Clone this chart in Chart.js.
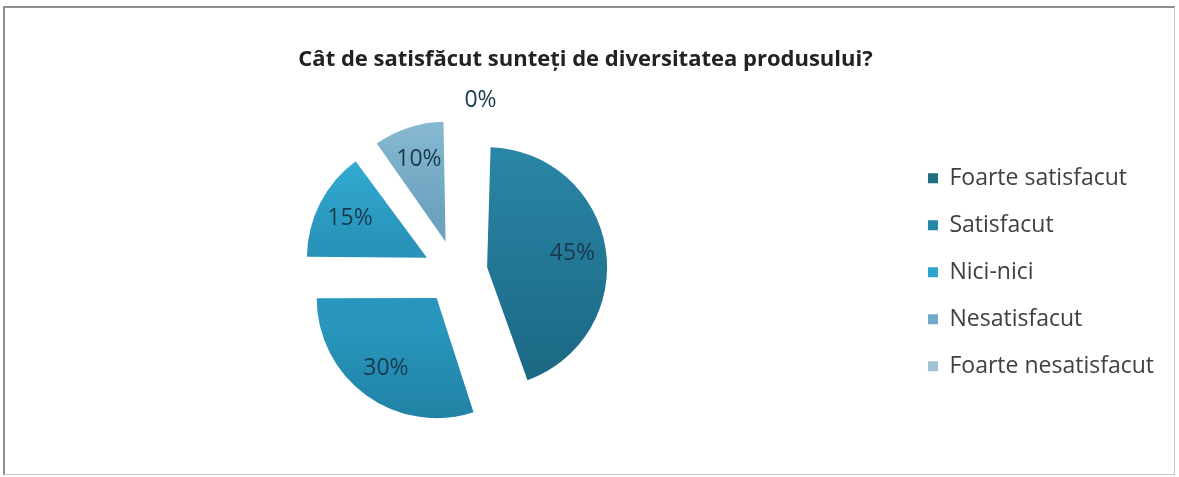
<!DOCTYPE html>
<html>
<head>
<meta charset="utf-8">
<script src="https://cdn.jsdelivr.net/npm/chart.js@4"></script>
<style>
  html, body { margin: 0; padding: 0; background: #fff; }
  #wrap { position: relative; width: 1179px; height: 477px; overflow: hidden; }
  #frame { position: absolute; left: 3px; top: 6px; width: 1169px; height: 466px;
           border: 1px solid #c8c8c8; border-top: 2px solid #8e8e8e; border-left: 2px solid #8e8e8e; }
  canvas { position: absolute; left: 0; top: 0; }
</style>
</head>
<body>
<div id="wrap">
  <div id="frame"></div>
  <canvas id="chart" width="1179" height="477"></canvas>
</div>
<script>
const chartTitle = 'Cât de satisfăcut sunteți de diversitatea produsului?';
const categories = ['Foarte satisfacut', 'Satisfacut', 'Nici-nici', 'Nesatisfacut', 'Foarte nesatisfacut'];
const shares = [45, 30, 15, 10, 0];
const legendColors = ['#1f6e82', '#2486a8', '#2ca4ce', '#6fa8c8', '#a0c2d4'];
// top / bottom shade of each slice
const topColors = ['#2a87a6', '#2896bd', '#35b0d8', '#90c1d7', '#b0d0de'];
const bottomColors = ['#1b6884', '#1f7d9e', '#2892b8', '#6ca3bf', '#90b6ca'];

const R = 120;        // pie radius
const explode = 128;  // chart.js moves a slice by offset/4
const shift = explode / 4;

function sliceAngles(i) {
  const total = shares.reduce((a, b) => a + b, 0);
  const before = shares.slice(0, i).reduce((a, b) => a + b, 0);
  const start = -Math.PI / 2 + 2 * Math.PI * before / total;
  const end = start + 2 * Math.PI * shares[i] / total;
  return [start, end];
}

function sliceFill(c) {
  const i = c.dataIndex;
  const area = c.chart.chartArea;
  if (!area) return legendColors[i];
  const cy = (area.top + area.bottom) / 2;
  const [a0, a1] = sliceAngles(i);
  const mid = (a0 + a1) / 2;
  const ay = cy + Math.sin(mid) * shift;
  let ymin = ay, ymax = ay;
  for (let k = 0; k <= 24; k++) {
    const a = a0 + (a1 - a0) * k / 24;
    const y = ay + Math.sin(a) * R;
    ymin = Math.min(ymin, y);
    ymax = Math.max(ymax, y);
  }
  const g = c.chart.ctx.createLinearGradient(0, ymin, 0, ymax + 1);
  g.addColorStop(0, topColors[i]);
  g.addColorStop(1, bottomColors[i]);
  return g;
}

// keep every slice the same radius when exploded
const evenRadius = {
  id: 'evenRadius',
  beforeDatasetsDraw(chart) {
    chart.getDatasetMeta(0).data.forEach(arc => {
      const fix = 1 - Math.sin(Math.min(Math.PI, arc.circumference || 0));
      arc.outerRadius = R - shift * fix;
    });
  }
};

const pctLabels = {
  id: 'pctLabels',
  afterDatasetsDraw(chart) {
    const ctx = chart.ctx;
    const meta = chart.getDatasetMeta(0);
    ctx.save();
    ctx.font = '23px "Open Sans"';
    ctx.fillStyle = '#173a4e';
    ctx.textAlign = 'center';
    ctx.textBaseline = 'middle';
    meta.data.forEach((arc, i) => {
      const mid = (arc.startAngle + arc.endAngle) / 2;
      let d, dx = 0;
      if (shares[i] > 0) {
        d = shift + 0.72 * R;
      } else {
        d = R + shift + 20;
        dx = 25;
      }
      ctx.fillText(shares[i] + '%', arc.x + Math.cos(mid) * d + dx, arc.y + Math.sin(mid) * d);
    });
    ctx.restore();
  }
};

new Chart(document.getElementById('chart'), {
  type: 'pie',
  data: {
    labels: categories,
    datasets: [{
      data: shares,
      backgroundColor: sliceFill,
      borderWidth: 0,
      offset: explode
    }]
  },
  options: {
    responsive: false,
    animation: false,
    radius: R,
    layout: { padding: { left: 7, right: 15, top: 0, bottom: 8 } },
    plugins: {
      title: {
        display: true,
        text: chartTitle,
        color: '#222',
        font: { family: 'Open Sans', size: 22, weight: 'bold' },
        padding: { top: 47, bottom: 2 }
      },
      legend: {
        position: 'right',
        fullSize: false,
        labels: {
          color: '#404040',
          font: { family: 'Open Sans', size: 23 },
          boxWidth: 10,
          boxHeight: 10,
          padding: 24,
          generateLabels: (chart) => categories.map((name, i) => ({
            text: name,
            fillStyle: legendColors[i],
            strokeStyle: legendColors[i],
            lineWidth: 0,
            fontColor: '#404040',
            index: i
          }))
        }
      },
      tooltip: { enabled: false }
    }
  },
  plugins: [evenRadius, pctLabels]
});
</script>
</body>
</html>
